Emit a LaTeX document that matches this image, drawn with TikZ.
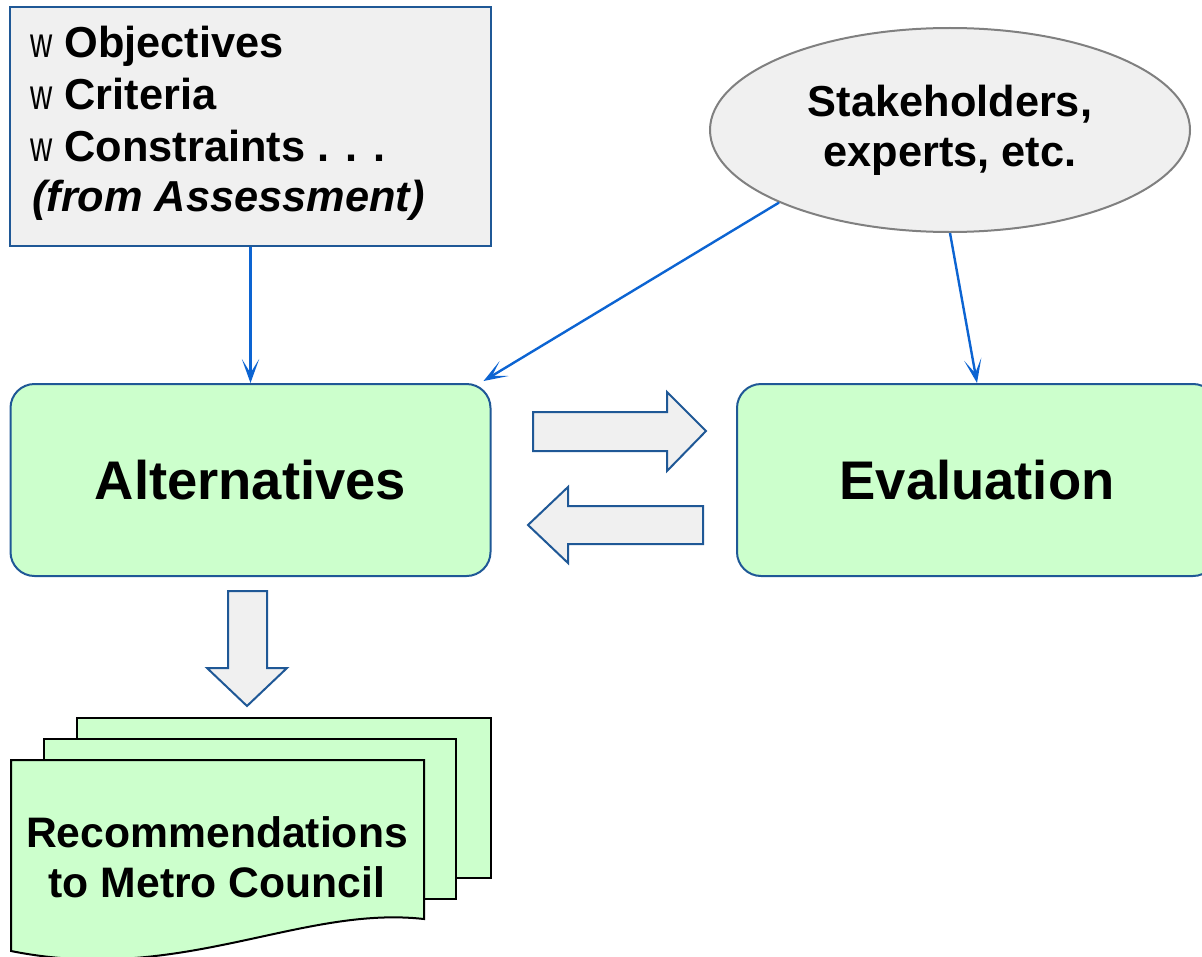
\documentclass[tikz,border=0pt]{standalone}
\usepackage{fontspec}
\usepackage{graphicx}
\setmainfont{Liberation Sans}
\usetikzlibrary{shapes.geometric,arrows.meta,calc}
\definecolor{boxblue}{RGB}{31,88,150}
\definecolor{linkblue}{RGB}{12,100,210}
\definecolor{panelgray}{RGB}{240,240,240}
\definecolor{mint}{RGB}{204,255,204}
\definecolor{rimgray}{RGB}{128,128,128}
\newcommand{\bulletw}{{\mdseries\fontsize{32}{38}\selectfont\scalebox{0.72}[1]{w}}}
\begin{document}
\begin{tikzpicture}[x=0.75pt,y=-0.75pt,
  panel/.style={draw=boxblue, fill=panelgray, line width=1.5pt, minimum width=360.75pt, minimum height=179.25pt, inner sep=0pt},
  stage/.style={draw=boxblue, fill=mint, line width=1.5pt, rounded corners=18pt, minimum width=360pt, minimum height=144pt, inner sep=0pt, font=\fontsize{40.8}{48}\selectfont\bfseries},
  cloud/.style={ellipse, draw=rimgray, fill=panelgray, line width=1.5pt, minimum width=360pt, minimum height=153pt, inner sep=0pt, align=center, font=\fontsize{32.5}{37.5}\selectfont\bfseries},
  listline/.style={anchor=base west, inner sep=0pt, font=\fontsize{32.5}{37.5}\selectfont\bfseries},
  link/.style={draw=linkblue, line width=1.8pt, -{Stealth[length=18pt,width=13pt,inset=10.5pt]}},
  blockarrow/.style={draw=boxblue, fill=panelgray, line width=1.5pt, line join=miter},
  sheet/.style={draw=black, fill=mint, line width=1.5pt, line join=miter},
  doctext/.style={align=center, inner sep=0pt, font=\fontsize{32}{37.5}\selectfont\bfseries}
]
\useasboundingbox (0,0) rectangle (1202,956);
\clip (0,0) rectangle (1202,956);

% criteria panel
\node[panel] (crit) at (250.5,126.5) {};
\node[listline] (l1) at (30,58) {\bulletw\hspace{9pt}Objectives};
\node[listline] (l2) at (30,109) {\bulletw\hspace{9pt}Criteria};
\node[listline] (l3) at (30,161) {\bulletw\hspace{9pt}Constraints . . .};
\node[listline] (l4) at (32,211) {\itshape (from Assessment)};

% stakeholders
\node[cloud] (stake) at (950,130) {Stakeholders,\\experts, etc.};

% main stages
\node[stage] (alt) at (250.5,480) {Alternatives};
\node[stage] (eval) at (977,480) {Evaluation};

% block arrows
\draw[blockarrow] (533,412) -- (667,412) -- (667,392) -- (706,431) -- (667,471) -- (667,451) -- (533,451) -- cycle;
\draw[blockarrow] (703,506) -- (568,506) -- (568,487) -- (528,525) -- (568,563) -- (568,544) -- (703,544) -- cycle;
\draw[blockarrow] (228,591) -- (267,591) -- (267,668) -- (287,668) -- (247,706) -- (207,668) -- (228,668) -- cycle;

% documents
\draw[sheet] (77,718) rectangle (491,878);
\draw[sheet] (44,739) rectangle (456,899);
\draw[sheet] (11,760) -- (424,760) -- (424,919) .. controls (300,905) and (180,985) .. (11,951) -- cycle;
\node[doctext] (rec) at (217,857) {Recommendations\\to Metro Council};

% connectors
\draw[link] (crit.south) -- (alt.north);
\draw[link] (stake.203) -- ($(alt.north east)+(-8,-2)$);
\draw[link] (stake.south) -- (eval.north);
\end{tikzpicture}
\end{document}
